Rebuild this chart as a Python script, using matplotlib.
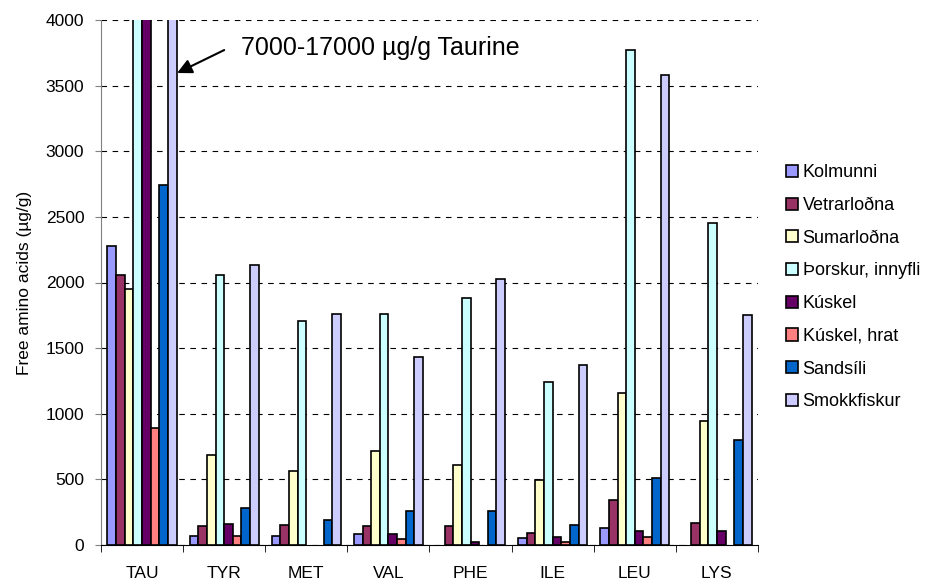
import numpy as np
import matplotlib.pyplot as plt

plt.rcParams['font.family'] = ['Liberation Sans', 'DejaVu Sans']

amino = ['TAU', 'TYR', 'MET', 'VAL', 'PHE', 'ILE', 'LEU', 'LYS']
series = ['Kolmunni', 'Vetrarloðna', 'Sumarloðna', 'Þorskur, innyfli',
          'Kúskel', 'Kúskel, hrat', 'Sandsíli', 'Smokkfiskur']
colors = ['#9999FF', '#993366', '#FFFFCC', '#CCFFFF',
          '#660066', '#FF8080', '#0066CC', '#CCCCFF']

kolmunni = [2280, 71, 71, 81, 0, 56, 130, 0]
vetrarlodna = [2060, 142, 152, 142, 142, 94, 343, 165]
sumarlodna = [1950, 683, 566, 718, 612, 495, 1158, 943]
thorskur = [17000, 2060, 1710, 1760, 1880, 1243, 3770, 2450]
kuskel = [7000, 162, 0, 81, 23, 58, 104, 104]
kuskel_hrat = [890, 71, 0, 43, 0, 23, 58, 0]
sandsili = [2740, 282, 187, 259, 259, 155, 507, 802]
smokkfiskur = [12000, 2130, 1760, 1430, 2030, 1370, 3580, 1750]

values = [kolmunni, vetrarlodna, sumarlodna, thorskur,
          kuskel, kuskel_hrat, sandsili, smokkfiskur]

fig = plt.figure(figsize=(9.37, 5.83), dpi=100)
ax = fig.add_axes([101/937, 38/583, 657/937, 525/583])

x = np.arange(len(amino))
w = 0.842 / len(series)
for i, (name, vals) in enumerate(zip(series, values)):
    # no outline for empty (zero) bars
    lws = [1.2 if v > 0 else 0 for v in vals]
    ax.bar(x - 0.421 + w * (i + 0.5), vals, width=w, color=colors[i],
           edgecolor='black', linewidth=lws, label=name, zorder=3)

ax.set_xlim(-0.5, len(amino) - 0.5)
ax.set_ylim(0, 4000)
ax.set_yticks(np.arange(0, 4001, 500))
ax.yaxis.grid(True, linestyle=(0, (5, 5)), color='black', linewidth=0.8)
ax.set_axisbelow(True)

ax.set_xticks(x)
ax.set_xticklabels(amino, fontsize=12.5)
ax.set_xticks(np.arange(-0.5, len(amino)), minor=True)
ax.tick_params(axis='x', which='major', length=0, pad=15)
ax.tick_params(axis='x', which='minor', length=5, color='black')
ax.tick_params(axis='y', labelsize=12.5, length=4, color='#808080', pad=8)

for s in ['top', 'right']:
    ax.spines[s].set_visible(False)
ax.spines['left'].set_color('#808080')
ax.spines['bottom'].set_color('black')

ax.set_ylabel('Free amino acids (µg/g)', fontsize=12.5, labelpad=10)

ax.annotate('', xy=(0.427, 3596), xytext=(1.0, 3771),
            arrowprops=dict(arrowstyle='-|>', color='black', lw=1.5,
                            mutation_scale=22, shrinkA=0, shrinkB=0))
ax.text(1.2, 3733, '7000-17000 µg/g Taurine', fontsize=18,
        va='baseline', ha='left')

leg = fig.legend(loc='upper left', bbox_to_anchor=(770/937, 1 - 148/583),
                 frameon=False, fontsize=13, handlelength=0.66,
                 handleheight=0.66, handletextpad=0.25, labelspacing=0.87)
for h in leg.legend_handles:
    h.set_linewidth(1.2)

fig.savefig('out.png', dpi=100)
